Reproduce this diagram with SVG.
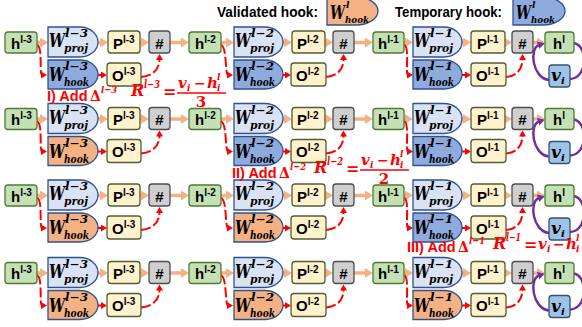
<svg xmlns="http://www.w3.org/2000/svg" width="582" height="327" viewBox="0 0 582 327">
<style>
.gr{fill:#c5e0b4;stroke:#4e7a34;stroke-width:1.3}
.py{fill:#fff2cc;stroke:#4f5f33;stroke-width:1.3}
.gy{fill:#cfcfcf;stroke:#4d4d4d;stroke-width:1.3}
.wp{fill:#dae3f3;stroke:#2f528f;stroke-width:1.3}
.wt{fill:#8faadc;stroke:#2f528f;stroke-width:1.3}
.wv{fill:#f4b183;stroke:#2f528f;stroke-width:1.3}
.vb{fill:#9dc3e6;stroke:#3a5070;stroke-width:1.3}
.t{font-family:"Liberation Sans",Arial,sans-serif;font-weight:bold;font-size:15px;fill:#000}
.m{font-family:"DejaVu Serif",serif;font-style:italic;font-weight:bold;fill:#000}
.rt{font-family:"Liberation Sans",Arial,sans-serif;font-weight:bold;font-size:14.5px;fill:#ff0000}
.rm{font-family:"DejaVu Serif",serif;font-style:italic;font-weight:bold;fill:#ff0000}
.ru{font-family:"DejaVu Serif",serif;font-weight:bold;fill:#ff0000}
.pa{fill:none;stroke:#f4b183;stroke-width:3.5;marker-end:url(#ap)}
.ra{fill:none;stroke:#ff0000;stroke-width:2;stroke-dasharray:10 3;marker-end:url(#ar)}
.pu{fill:none;stroke:#7030a0;stroke-width:2.5}
</style>
<defs>
<marker id="ap" markerUnits="userSpaceOnUse" markerWidth="10" markerHeight="10" refX="2" refY="5" orient="auto"><path d="M0,0 L8,5 L0,10 z" fill="#f4b183"/></marker>
<marker id="ar" markerUnits="userSpaceOnUse" markerWidth="8" markerHeight="8" refX="1" refY="3.5" orient="auto"><path d="M0,0 L6,3.5 L0,7 z" fill="#ff0000"/></marker>
<marker id="au" markerUnits="userSpaceOnUse" markerWidth="9" markerHeight="9" refX="1" refY="4" orient="auto"><path d="M0,0 L7,4 L0,8 z" fill="#7030a0"/></marker>
</defs>
<rect width="582" height="327" fill="#fff"/>

<!-- legend -->
<g id="legend-validated">
<text class="t" x="217" y="17" font-size="12.5" textLength="101" lengthAdjust="spacingAndGlyphs">Validated hook:</text>
<path class="wv" d="M327,-3 H356 A22,14 0 0 1 356,25 H327 Z"/>
<text class="m" x="330" y="19" font-size="18" textLength="15" lengthAdjust="spacingAndGlyphs">W</text>
<text class="m" x="346" y="8" font-size="9">l</text>
<text class="m" x="345" y="23" font-size="10" textLength="24" lengthAdjust="spacingAndGlyphs">hook</text>
</g>
<g id="legend-temporary">
<text class="t" x="395" y="17" font-size="12.5" textLength="107" lengthAdjust="spacingAndGlyphs">Temporary hook:</text>
<path class="wt" d="M513,-3 H543 A22,14 0 0 1 543,25 H513 Z"/>
<text class="m" x="516" y="19" font-size="18" textLength="15" lengthAdjust="spacingAndGlyphs">W</text>
<text class="m" x="532" y="8" font-size="9">l</text>
<text class="m" x="531" y="23" font-size="10" textLength="24" lengthAdjust="spacingAndGlyphs">hook</text>
</g>

<!-- connectors -->
<g id="connectors">
<g id="conn-r1">
<path class="pa" d="M37,42.5 H42"/><path class="pa" d="M98,42.5 H102"/><path class="pa" d="M140,42.5 H143"/><path class="pa" d="M170,42.5 H183"/>
<path class="pa" d="M221,42.5 H228"/><path class="pa" d="M283,42.5 H286"/><path class="pa" d="M325,42.5 H327"/><path class="pa" d="M354,42.5 H367"/>
<path class="pa" d="M404,42.5 H407"/><path class="pa" d="M462,42.5 H465"/><path class="pa" d="M505,42.5 H506"/><path class="pa" d="M533,42.5 H539"/>
<path class="ra" d="M37,45 C43,46 39,75 42,75"/><path class="ra" d="M98,75 H102"/><path class="ra" d="M141,77 C152,76 159.5,70 159.5,59"/>
<path class="ra" d="M221,45 C227,46 225,75 228,75"/><path class="ra" d="M283,75 H286"/><path class="ra" d="M326,77 C337,76 343.5,70 343.5,59"/>
<path class="ra" d="M404,45 C410,46 405,75 408,75"/><path class="ra" d="M462,75 H466"/><path class="ra" d="M506,77 C516,76 522.5,70 522.5,59"/>
<path class="pu" marker-end="url(#au)" d="M549,80 C532,78 529,48 539,45"/><path class="pu" d="M574,43 C588,46 588,78 570,79"/>
</g>
<g id="conn-r2" transform="translate(0,76.5)">
<path class="pa" d="M37,42.5 H42"/><path class="pa" d="M98,42.5 H102"/><path class="pa" d="M140,42.5 H143"/><path class="pa" d="M170,42.5 H183"/>
<path class="pa" d="M221,42.5 H228"/><path class="pa" d="M283,42.5 H286"/><path class="pa" d="M325,42.5 H327"/><path class="pa" d="M354,42.5 H367"/>
<path class="pa" d="M404,42.5 H407"/><path class="pa" d="M462,42.5 H465"/><path class="pa" d="M505,42.5 H506"/><path class="pa" d="M533,42.5 H539"/>
<path class="ra" d="M37,45 C43,46 39,75 42,75"/><path class="ra" d="M98,75 H102"/><path class="ra" d="M141,77 C152,76 159.5,70 159.5,59"/>
<path class="ra" d="M221,45 C227,46 225,75 228,75"/><path class="ra" d="M283,75 H286"/><path class="ra" d="M326,77 C337,76 343.5,70 343.5,59"/>
<path class="ra" d="M404,45 C410,46 405,75 408,75"/><path class="ra" d="M462,75 H466"/><path class="ra" d="M506,77 C516,76 522.5,70 522.5,59"/>
<path class="pu" marker-end="url(#au)" d="M549,80 C532,78 529,48 539,45"/><path class="pu" d="M574,43 C588,46 588,78 570,79"/>
</g>
<g id="conn-r3" transform="translate(0,153)">
<path class="pa" d="M37,42.5 H42"/><path class="pa" d="M98,42.5 H102"/><path class="pa" d="M140,42.5 H143"/><path class="pa" d="M170,42.5 H183"/>
<path class="pa" d="M221,42.5 H228"/><path class="pa" d="M283,42.5 H286"/><path class="pa" d="M325,42.5 H327"/><path class="pa" d="M354,42.5 H367"/>
<path class="pa" d="M404,42.5 H407"/><path class="pa" d="M462,42.5 H465"/><path class="pa" d="M505,42.5 H506"/><path class="pa" d="M533,42.5 H539"/>
<path class="ra" d="M37,45 C43,46 39,75 42,75"/><path class="ra" d="M98,75 H102"/><path class="ra" d="M141,77 C152,76 159.5,70 159.5,59"/>
<path class="ra" d="M221,45 C227,46 225,75 228,75"/><path class="ra" d="M283,75 H286"/><path class="ra" d="M326,77 C337,76 343.5,70 343.5,59"/>
<path class="ra" d="M404,45 C410,46 405,75 408,75"/><path class="ra" d="M462,75 H466"/><path class="ra" d="M506,77 C516,76 522.5,70 522.5,59"/>
<path class="pu" marker-end="url(#au)" d="M549,80 C532,78 529,48 539,45"/><path class="pu" d="M574,43 C588,46 588,78 570,79"/>
</g>
<g id="conn-r4" transform="translate(0,230.5)">
<path class="pa" d="M37,42.5 H42"/><path class="pa" d="M98,42.5 H102"/><path class="pa" d="M140,42.5 H143"/><path class="pa" d="M170,42.5 H183"/>
<path class="pa" d="M221,42.5 H228"/><path class="pa" d="M283,42.5 H286"/><path class="pa" d="M325,42.5 H327"/><path class="pa" d="M354,42.5 H367"/>
<path class="pa" d="M404,42.5 H407"/><path class="pa" d="M462,42.5 H465"/><path class="pa" d="M505,42.5 H506"/><path class="pa" d="M533,42.5 H539"/>
<path class="ra" d="M37,45 C43,46 39,75 42,75"/><path class="ra" d="M98,75 H102"/><path class="ra" d="M141,77 C152,76 159.5,70 159.5,59"/>
<path class="ra" d="M221,45 C227,46 225,75 228,75"/><path class="ra" d="M283,75 H286"/><path class="ra" d="M326,77 C337,76 343.5,70 343.5,59"/>
<path class="ra" d="M404,45 C410,46 405,75 408,75"/><path class="ra" d="M462,75 H466"/><path class="ra" d="M506,77 C516,76 522.5,70 522.5,59"/>
<path class="pu" marker-end="url(#au)" d="M549,80 C532,78 529,48 539,45"/><path class="pu" d="M574,43 C588,46 588,78 570,79"/>
</g>
</g>

<!-- ROW 1 -->
<g id="row1">
<g id="h3-r1"><rect class="gr" x="5" y="32" width="32" height="21" rx="3"/><text class="t" x="11" y="48.5">h<tspan font-size="10" dy="-6">l-3</tspan></text></g>
<g id="wproj3-r1"><path class="wp" d="M48,27 H80 A18,15 0 0 1 80,57 H48 Z"/><text class="m" x="49" y="47" font-size="19" textLength="16" lengthAdjust="spacingAndGlyphs">W</text><text class="m" x="65" y="37" font-size="11" textLength="23" lengthAdjust="spacingAndGlyphs">l−3</text><text class="m" x="64" y="52" font-size="11" textLength="24" lengthAdjust="spacingAndGlyphs">proj</text></g>
<g id="whook3-r1"><path class="wt" d="M48,60 H80 A18,14.5 0 0 1 80,89 H48 Z"/><text class="m" x="49" y="81" font-size="19" textLength="16" lengthAdjust="spacingAndGlyphs">W</text><text class="m" x="65" y="70" font-size="11" textLength="23" lengthAdjust="spacingAndGlyphs">l−3</text><text class="m" x="64" y="86" font-size="11" textLength="25" lengthAdjust="spacingAndGlyphs">hook</text></g>
<g id="p3-r1"><rect class="py" x="108" y="31" width="32" height="22" rx="3"/><text class="t" x="113" y="48.5">P<tspan font-size="10" dy="-6">l-3</tspan></text></g>
<g id="s3-r1"><rect class="gy" x="149" y="31" width="21" height="22" rx="3"/><text class="t" x="159.5" y="48.5" font-size="17" text-anchor="middle">#</text></g>
<g id="o3-r1"><rect class="py" x="107" y="63" width="34" height="23" rx="3"/><text class="t" x="112" y="80.5">O<tspan font-size="10" dy="-6">l-3</tspan></text></g>

<g id="h2-r1"><rect class="gr" x="189" y="32" width="32" height="21" rx="3"/><text class="t" x="195" y="48.5">h<tspan font-size="10" dy="-6">l-2</tspan></text></g>
<g id="wproj2-r1"><path class="wp" d="M234,27 H265 A18,15 0 0 1 265,57 H234 Z"/><text class="m" x="235" y="47" font-size="19" textLength="16" lengthAdjust="spacingAndGlyphs">W</text><text class="m" x="251" y="37" font-size="11" textLength="23" lengthAdjust="spacingAndGlyphs">l−2</text><text class="m" x="250" y="52" font-size="11" textLength="24" lengthAdjust="spacingAndGlyphs">proj</text></g>
<g id="whook2-r1"><path class="wt" d="M234,60 H265 A18,14.5 0 0 1 265,89 H234 Z"/><text class="m" x="235" y="81" font-size="19" textLength="16" lengthAdjust="spacingAndGlyphs">W</text><text class="m" x="251" y="70" font-size="11" textLength="23" lengthAdjust="spacingAndGlyphs">l−2</text><text class="m" x="250" y="86" font-size="11" textLength="25" lengthAdjust="spacingAndGlyphs">hook</text></g>
<g id="p2-r1"><rect class="py" x="292" y="31" width="33" height="22" rx="3"/><text class="t" x="297" y="48.5">P<tspan font-size="10" dy="-6">l-2</tspan></text></g>
<g id="s2-r1"><rect class="gy" x="333" y="31" width="21" height="22" rx="3"/><text class="t" x="343.5" y="48.5" font-size="17" text-anchor="middle">#</text></g>
<g id="o2-r1"><rect class="py" x="291" y="63" width="35" height="23" rx="3"/><text class="t" x="296" y="80.5">O<tspan font-size="10" dy="-6">l-2</tspan></text></g>

<g id="h1-r1"><rect class="gr" x="373" y="32" width="31" height="21" rx="3"/><text class="t" x="378" y="48.5">h<tspan font-size="10" dy="-6">l-1</tspan></text></g>
<g id="wproj1-r1"><path class="wp" d="M413,27 H444 A18,15 0 0 1 444,57 H413 Z"/><text class="m" x="414" y="47" font-size="19" textLength="16" lengthAdjust="spacingAndGlyphs">W</text><text class="m" x="430" y="37" font-size="11" textLength="23" lengthAdjust="spacingAndGlyphs">l−1</text><text class="m" x="429" y="52" font-size="11" textLength="24" lengthAdjust="spacingAndGlyphs">proj</text></g>
<g id="whook1-r1"><path class="wt" d="M413,60 H444 A18,14.5 0 0 1 444,89 H413 Z"/><text class="m" x="414" y="81" font-size="19" textLength="16" lengthAdjust="spacingAndGlyphs">W</text><text class="m" x="430" y="70" font-size="11" textLength="23" lengthAdjust="spacingAndGlyphs">l−1</text><text class="m" x="429" y="86" font-size="11" textLength="25" lengthAdjust="spacingAndGlyphs">hook</text></g>
<g id="p1-r1"><rect class="py" x="471" y="31" width="34" height="22" rx="3"/><text class="t" x="477" y="48.5">P<tspan font-size="10" dy="-6">l-1</tspan></text></g>
<g id="s1-r1"><rect class="gy" x="512" y="31" width="21" height="22" rx="3"/><text class="t" x="522.5" y="48.5" font-size="17" text-anchor="middle">#</text></g>
<g id="o1-r1"><rect class="py" x="471" y="63" width="35" height="23" rx="3"/><text class="t" x="476" y="80.5">O<tspan font-size="10" dy="-6">l-1</tspan></text></g>

<g id="hl-r1"><rect class="gr" x="545" y="32" width="29" height="21" rx="3"/><text class="t" x="553" y="48.5">h<tspan font-size="10" dy="-6">l</tspan></text></g>
<g id="v-r1"><rect class="vb" x="549" y="65" width="21" height="22" rx="3"/><text class="m" x="551" y="81" font-size="17">v</text><text class="m" x="561" y="84" font-size="10">i</text></g>
</g>

<!-- ROW 2 -->
<g id="row2" transform="translate(0,76.5)">
<g id="h3-r2"><rect class="gr" x="5" y="32" width="32" height="21" rx="3"/><text class="t" x="11" y="48.5">h<tspan font-size="10" dy="-6">l-3</tspan></text></g>
<g id="wproj3-r2"><path class="wp" d="M48,27 H80 A18,15 0 0 1 80,57 H48 Z"/><text class="m" x="49" y="47" font-size="19" textLength="16" lengthAdjust="spacingAndGlyphs">W</text><text class="m" x="65" y="37" font-size="11" textLength="23" lengthAdjust="spacingAndGlyphs">l−3</text><text class="m" x="64" y="52" font-size="11" textLength="24" lengthAdjust="spacingAndGlyphs">proj</text></g>
<g id="whook3-r2"><path class="wv" d="M48,60 H80 A18,14.5 0 0 1 80,89 H48 Z"/><text class="m" x="49" y="81" font-size="19" textLength="16" lengthAdjust="spacingAndGlyphs">W</text><text class="m" x="65" y="70" font-size="11" textLength="23" lengthAdjust="spacingAndGlyphs">l−3</text><text class="m" x="64" y="86" font-size="11" textLength="25" lengthAdjust="spacingAndGlyphs">hook</text></g>
<g id="p3-r2"><rect class="py" x="108" y="31" width="32" height="22" rx="3"/><text class="t" x="113" y="48.5">P<tspan font-size="10" dy="-6">l-3</tspan></text></g>
<g id="s3-r2"><rect class="gy" x="149" y="31" width="21" height="22" rx="3"/><text class="t" x="159.5" y="48.5" font-size="17" text-anchor="middle">#</text></g>
<g id="o3-r2"><rect class="py" x="107" y="63" width="34" height="23" rx="3"/><text class="t" x="112" y="80.5">O<tspan font-size="10" dy="-6">l-3</tspan></text></g>

<g id="h2-r2"><rect class="gr" x="189" y="32" width="32" height="21" rx="3"/><text class="t" x="195" y="48.5">h<tspan font-size="10" dy="-6">l-2</tspan></text></g>
<g id="wproj2-r2"><path class="wp" d="M234,27 H265 A18,15 0 0 1 265,57 H234 Z"/><text class="m" x="235" y="47" font-size="19" textLength="16" lengthAdjust="spacingAndGlyphs">W</text><text class="m" x="251" y="37" font-size="11" textLength="23" lengthAdjust="spacingAndGlyphs">l−2</text><text class="m" x="250" y="52" font-size="11" textLength="24" lengthAdjust="spacingAndGlyphs">proj</text></g>
<g id="whook2-r2"><path class="wt" d="M234,60 H265 A18,14.5 0 0 1 265,89 H234 Z"/><text class="m" x="235" y="81" font-size="19" textLength="16" lengthAdjust="spacingAndGlyphs">W</text><text class="m" x="251" y="70" font-size="11" textLength="23" lengthAdjust="spacingAndGlyphs">l−2</text><text class="m" x="250" y="86" font-size="11" textLength="25" lengthAdjust="spacingAndGlyphs">hook</text></g>
<g id="p2-r2"><rect class="py" x="292" y="31" width="33" height="22" rx="3"/><text class="t" x="297" y="48.5">P<tspan font-size="10" dy="-6">l-2</tspan></text></g>
<g id="s2-r2"><rect class="gy" x="333" y="31" width="21" height="22" rx="3"/><text class="t" x="343.5" y="48.5" font-size="17" text-anchor="middle">#</text></g>
<g id="o2-r2"><rect class="py" x="291" y="63" width="35" height="23" rx="3"/><text class="t" x="296" y="80.5">O<tspan font-size="10" dy="-6">l-2</tspan></text></g>

<g id="h1-r2"><rect class="gr" x="373" y="32" width="31" height="21" rx="3"/><text class="t" x="378" y="48.5">h<tspan font-size="10" dy="-6">l-1</tspan></text></g>
<g id="wproj1-r2"><path class="wp" d="M413,27 H444 A18,15 0 0 1 444,57 H413 Z"/><text class="m" x="414" y="47" font-size="19" textLength="16" lengthAdjust="spacingAndGlyphs">W</text><text class="m" x="430" y="37" font-size="11" textLength="23" lengthAdjust="spacingAndGlyphs">l−1</text><text class="m" x="429" y="52" font-size="11" textLength="24" lengthAdjust="spacingAndGlyphs">proj</text></g>
<g id="whook1-r2"><path class="wt" d="M413,60 H444 A18,14.5 0 0 1 444,89 H413 Z"/><text class="m" x="414" y="81" font-size="19" textLength="16" lengthAdjust="spacingAndGlyphs">W</text><text class="m" x="430" y="70" font-size="11" textLength="23" lengthAdjust="spacingAndGlyphs">l−1</text><text class="m" x="429" y="86" font-size="11" textLength="25" lengthAdjust="spacingAndGlyphs">hook</text></g>
<g id="p1-r2"><rect class="py" x="471" y="31" width="34" height="22" rx="3"/><text class="t" x="477" y="48.5">P<tspan font-size="10" dy="-6">l-1</tspan></text></g>
<g id="s1-r2"><rect class="gy" x="512" y="31" width="21" height="22" rx="3"/><text class="t" x="522.5" y="48.5" font-size="17" text-anchor="middle">#</text></g>
<g id="o1-r2"><rect class="py" x="471" y="63" width="35" height="23" rx="3"/><text class="t" x="476" y="80.5">O<tspan font-size="10" dy="-6">l-1</tspan></text></g>

<g id="hl-r2"><rect class="gr" x="545" y="32" width="29" height="21" rx="3"/><text class="t" x="553" y="48.5">h<tspan font-size="10" dy="-6">l</tspan></text></g>
<g id="v-r2"><rect class="vb" x="549" y="65" width="21" height="22" rx="3"/><text class="m" x="551" y="81" font-size="17">v</text><text class="m" x="561" y="84" font-size="10">i</text></g>
</g>

<!-- ROW 3 -->
<g id="row3" transform="translate(0,153)">
<g id="h3-r3"><rect class="gr" x="5" y="32" width="32" height="21" rx="3"/><text class="t" x="11" y="48.5">h<tspan font-size="10" dy="-6">l-3</tspan></text></g>
<g id="wproj3-r3"><path class="wp" d="M48,27 H80 A18,15 0 0 1 80,57 H48 Z"/><text class="m" x="49" y="47" font-size="19" textLength="16" lengthAdjust="spacingAndGlyphs">W</text><text class="m" x="65" y="37" font-size="11" textLength="23" lengthAdjust="spacingAndGlyphs">l−3</text><text class="m" x="64" y="52" font-size="11" textLength="24" lengthAdjust="spacingAndGlyphs">proj</text></g>
<g id="whook3-r3"><path class="wv" d="M48,60 H80 A18,14.5 0 0 1 80,89 H48 Z"/><text class="m" x="49" y="81" font-size="19" textLength="16" lengthAdjust="spacingAndGlyphs">W</text><text class="m" x="65" y="70" font-size="11" textLength="23" lengthAdjust="spacingAndGlyphs">l−3</text><text class="m" x="64" y="86" font-size="11" textLength="25" lengthAdjust="spacingAndGlyphs">hook</text></g>
<g id="p3-r3"><rect class="py" x="108" y="31" width="32" height="22" rx="3"/><text class="t" x="113" y="48.5">P<tspan font-size="10" dy="-6">l-3</tspan></text></g>
<g id="s3-r3"><rect class="gy" x="149" y="31" width="21" height="22" rx="3"/><text class="t" x="159.5" y="48.5" font-size="17" text-anchor="middle">#</text></g>
<g id="o3-r3"><rect class="py" x="107" y="63" width="34" height="23" rx="3"/><text class="t" x="112" y="80.5">O<tspan font-size="10" dy="-6">l-3</tspan></text></g>

<g id="h2-r3"><rect class="gr" x="189" y="32" width="32" height="21" rx="3"/><text class="t" x="195" y="48.5">h<tspan font-size="10" dy="-6">l-2</tspan></text></g>
<g id="wproj2-r3"><path class="wp" d="M234,27 H265 A18,15 0 0 1 265,57 H234 Z"/><text class="m" x="235" y="47" font-size="19" textLength="16" lengthAdjust="spacingAndGlyphs">W</text><text class="m" x="251" y="37" font-size="11" textLength="23" lengthAdjust="spacingAndGlyphs">l−2</text><text class="m" x="250" y="52" font-size="11" textLength="24" lengthAdjust="spacingAndGlyphs">proj</text></g>
<g id="whook2-r3"><path class="wv" d="M234,60 H265 A18,14.5 0 0 1 265,89 H234 Z"/><text class="m" x="235" y="81" font-size="19" textLength="16" lengthAdjust="spacingAndGlyphs">W</text><text class="m" x="251" y="70" font-size="11" textLength="23" lengthAdjust="spacingAndGlyphs">l−2</text><text class="m" x="250" y="86" font-size="11" textLength="25" lengthAdjust="spacingAndGlyphs">hook</text></g>
<g id="p2-r3"><rect class="py" x="292" y="31" width="33" height="22" rx="3"/><text class="t" x="297" y="48.5">P<tspan font-size="10" dy="-6">l-2</tspan></text></g>
<g id="s2-r3"><rect class="gy" x="333" y="31" width="21" height="22" rx="3"/><text class="t" x="343.5" y="48.5" font-size="17" text-anchor="middle">#</text></g>
<g id="o2-r3"><rect class="py" x="291" y="63" width="35" height="23" rx="3"/><text class="t" x="296" y="80.5">O<tspan font-size="10" dy="-6">l-2</tspan></text></g>

<g id="h1-r3"><rect class="gr" x="373" y="32" width="31" height="21" rx="3"/><text class="t" x="378" y="48.5">h<tspan font-size="10" dy="-6">l-1</tspan></text></g>
<g id="wproj1-r3"><path class="wp" d="M413,27 H444 A18,15 0 0 1 444,57 H413 Z"/><text class="m" x="414" y="47" font-size="19" textLength="16" lengthAdjust="spacingAndGlyphs">W</text><text class="m" x="430" y="37" font-size="11" textLength="23" lengthAdjust="spacingAndGlyphs">l−1</text><text class="m" x="429" y="52" font-size="11" textLength="24" lengthAdjust="spacingAndGlyphs">proj</text></g>
<g id="whook1-r3"><path class="wt" d="M413,60 H444 A18,14.5 0 0 1 444,89 H413 Z"/><text class="m" x="414" y="81" font-size="19" textLength="16" lengthAdjust="spacingAndGlyphs">W</text><text class="m" x="430" y="70" font-size="11" textLength="23" lengthAdjust="spacingAndGlyphs">l−1</text><text class="m" x="429" y="86" font-size="11" textLength="25" lengthAdjust="spacingAndGlyphs">hook</text></g>
<g id="p1-r3"><rect class="py" x="471" y="31" width="34" height="22" rx="3"/><text class="t" x="477" y="48.5">P<tspan font-size="10" dy="-6">l-1</tspan></text></g>
<g id="s1-r3"><rect class="gy" x="512" y="31" width="21" height="22" rx="3"/><text class="t" x="522.5" y="48.5" font-size="17" text-anchor="middle">#</text></g>
<g id="o1-r3"><rect class="py" x="471" y="63" width="35" height="23" rx="3"/><text class="t" x="476" y="80.5">O<tspan font-size="10" dy="-6">l-1</tspan></text></g>

<g id="hl-r3"><rect class="gr" x="545" y="32" width="29" height="21" rx="3"/><text class="t" x="553" y="48.5">h<tspan font-size="10" dy="-6">l</tspan></text></g>
<g id="v-r3"><rect class="vb" x="549" y="65" width="21" height="22" rx="3"/><text class="m" x="551" y="81" font-size="17">v</text><text class="m" x="561" y="84" font-size="10">i</text></g>
</g>

<!-- ROW 4 -->
<g id="row4" transform="translate(0,230.5)">
<g id="h3-r4"><rect class="gr" x="5" y="32" width="32" height="21" rx="3"/><text class="t" x="11" y="48.5">h<tspan font-size="10" dy="-6">l-3</tspan></text></g>
<g id="wproj3-r4"><path class="wp" d="M48,27 H80 A18,15 0 0 1 80,57 H48 Z"/><text class="m" x="49" y="47" font-size="19" textLength="16" lengthAdjust="spacingAndGlyphs">W</text><text class="m" x="65" y="37" font-size="11" textLength="23" lengthAdjust="spacingAndGlyphs">l−3</text><text class="m" x="64" y="52" font-size="11" textLength="24" lengthAdjust="spacingAndGlyphs">proj</text></g>
<g id="whook3-r4"><path class="wv" d="M48,60 H80 A18,14.5 0 0 1 80,89 H48 Z"/><text class="m" x="49" y="81" font-size="19" textLength="16" lengthAdjust="spacingAndGlyphs">W</text><text class="m" x="65" y="70" font-size="11" textLength="23" lengthAdjust="spacingAndGlyphs">l−3</text><text class="m" x="64" y="86" font-size="11" textLength="25" lengthAdjust="spacingAndGlyphs">hook</text></g>
<g id="p3-r4"><rect class="py" x="108" y="31" width="32" height="22" rx="3"/><text class="t" x="113" y="48.5">P<tspan font-size="10" dy="-6">l-3</tspan></text></g>
<g id="s3-r4"><rect class="gy" x="149" y="31" width="21" height="22" rx="3"/><text class="t" x="159.5" y="48.5" font-size="17" text-anchor="middle">#</text></g>
<g id="o3-r4"><rect class="py" x="107" y="63" width="34" height="23" rx="3"/><text class="t" x="112" y="80.5">O<tspan font-size="10" dy="-6">l-3</tspan></text></g>

<g id="h2-r4"><rect class="gr" x="189" y="32" width="32" height="21" rx="3"/><text class="t" x="195" y="48.5">h<tspan font-size="10" dy="-6">l-2</tspan></text></g>
<g id="wproj2-r4"><path class="wp" d="M234,27 H265 A18,15 0 0 1 265,57 H234 Z"/><text class="m" x="235" y="47" font-size="19" textLength="16" lengthAdjust="spacingAndGlyphs">W</text><text class="m" x="251" y="37" font-size="11" textLength="23" lengthAdjust="spacingAndGlyphs">l−2</text><text class="m" x="250" y="52" font-size="11" textLength="24" lengthAdjust="spacingAndGlyphs">proj</text></g>
<g id="whook2-r4"><path class="wv" d="M234,60 H265 A18,14.5 0 0 1 265,89 H234 Z"/><text class="m" x="235" y="81" font-size="19" textLength="16" lengthAdjust="spacingAndGlyphs">W</text><text class="m" x="251" y="70" font-size="11" textLength="23" lengthAdjust="spacingAndGlyphs">l−2</text><text class="m" x="250" y="86" font-size="11" textLength="25" lengthAdjust="spacingAndGlyphs">hook</text></g>
<g id="p2-r4"><rect class="py" x="292" y="31" width="33" height="22" rx="3"/><text class="t" x="297" y="48.5">P<tspan font-size="10" dy="-6">l-2</tspan></text></g>
<g id="s2-r4"><rect class="gy" x="333" y="31" width="21" height="22" rx="3"/><text class="t" x="343.5" y="48.5" font-size="17" text-anchor="middle">#</text></g>
<g id="o2-r4"><rect class="py" x="291" y="63" width="35" height="23" rx="3"/><text class="t" x="296" y="80.5">O<tspan font-size="10" dy="-6">l-2</tspan></text></g>

<g id="h1-r4"><rect class="gr" x="373" y="32" width="31" height="21" rx="3"/><text class="t" x="378" y="48.5">h<tspan font-size="10" dy="-6">l-1</tspan></text></g>
<g id="wproj1-r4"><path class="wp" d="M413,27 H444 A18,15 0 0 1 444,57 H413 Z"/><text class="m" x="414" y="47" font-size="19" textLength="16" lengthAdjust="spacingAndGlyphs">W</text><text class="m" x="430" y="37" font-size="11" textLength="23" lengthAdjust="spacingAndGlyphs">l−1</text><text class="m" x="429" y="52" font-size="11" textLength="24" lengthAdjust="spacingAndGlyphs">proj</text></g>
<g id="whook1-r4"><path class="wv" d="M413,60 H444 A18,14.5 0 0 1 444,89 H413 Z"/><text class="m" x="414" y="81" font-size="19" textLength="16" lengthAdjust="spacingAndGlyphs">W</text><text class="m" x="430" y="70" font-size="11" textLength="23" lengthAdjust="spacingAndGlyphs">l−1</text><text class="m" x="429" y="86" font-size="11" textLength="25" lengthAdjust="spacingAndGlyphs">hook</text></g>
<g id="p1-r4"><rect class="py" x="471" y="31" width="34" height="22" rx="3"/><text class="t" x="477" y="48.5">P<tspan font-size="10" dy="-6">l-1</tspan></text></g>
<g id="s1-r4"><rect class="gy" x="512" y="31" width="21" height="22" rx="3"/><text class="t" x="522.5" y="48.5" font-size="17" text-anchor="middle">#</text></g>
<g id="o1-r4"><rect class="py" x="471" y="63" width="35" height="23" rx="3"/><text class="t" x="476" y="80.5">O<tspan font-size="10" dy="-6">l-1</tspan></text></g>

<g id="hl-r4"><rect class="gr" x="545" y="32" width="29" height="21" rx="3"/><text class="t" x="553" y="48.5">h<tspan font-size="10" dy="-6">l</tspan></text></g>
<g id="v-r4"><rect class="vb" x="549" y="65" width="21" height="22" rx="3"/><text class="m" x="551" y="81" font-size="17">v</text><text class="m" x="561" y="84" font-size="10">i</text></g>
</g>

<!-- red step labels -->
<g id="label-1">
<text class="rt" x="47" y="101">I) Add</text>
<text class="ru" x="90" y="101" font-size="14">Δ</text>
<text class="rm" x="101" y="93" font-size="10" textLength="16" lengthAdjust="spacingAndGlyphs">l−3</text>
<text class="rm" x="131" y="96" font-size="16">R</text>
<text class="rm" x="144" y="88" font-size="11" textLength="16" lengthAdjust="spacingAndGlyphs">l−3</text>
<text class="ru" x="163" y="97" font-size="16">=</text>
<line x1="177" y1="93" x2="226" y2="93" stroke="#ff0000" stroke-width="1.6"/>
<text class="rm" x="178" y="88" font-size="15">v</text><text class="rm" x="187" y="91" font-size="9">i</text>
<text class="ru" x="194" y="88" font-size="14">−</text>
<text class="rm" x="207" y="88" font-size="15">h</text><text class="rm" x="217" y="80" font-size="9">l</text><text class="rm" x="217" y="91" font-size="9">i</text>
<text class="ru" x="201" y="107" font-size="15" text-anchor="middle">3</text>
</g>
<g id="label-2">
<text class="rt" x="232" y="178">II) Add</text>
<text class="ru" x="279" y="178" font-size="14">Δ</text>
<text class="rm" x="290" y="170" font-size="10" textLength="16" lengthAdjust="spacingAndGlyphs">l−2</text>
<text class="rm" x="314" y="173" font-size="16">R</text>
<text class="rm" x="327" y="165" font-size="11" textLength="16" lengthAdjust="spacingAndGlyphs">l−2</text>
<text class="ru" x="346" y="174" font-size="16">=</text>
<line x1="360" y1="170" x2="409" y2="170" stroke="#ff0000" stroke-width="1.6"/>
<text class="rm" x="361" y="165" font-size="15">v</text><text class="rm" x="370" y="168" font-size="9">i</text>
<text class="ru" x="377" y="165" font-size="14">−</text>
<text class="rm" x="390" y="165" font-size="15">h</text><text class="rm" x="400" y="157" font-size="9">l</text><text class="rm" x="400" y="168" font-size="9">i</text>
<text class="ru" x="384" y="184" font-size="15" text-anchor="middle">2</text>
</g>
<g id="label-3">
<text class="rt" x="407" y="252">III) Add</text>
<text class="ru" x="458" y="252" font-size="14">Δ</text>
<text class="rm" x="469" y="244" font-size="10" textLength="16" lengthAdjust="spacingAndGlyphs">l−1</text>
<text class="rm" x="493" y="249" font-size="16">R</text>
<text class="rm" x="506" y="241" font-size="11" textLength="15" lengthAdjust="spacingAndGlyphs">l−1</text>
<text class="ru" x="524" y="250" font-size="16">=</text>
<text class="rm" x="538" y="249" font-size="15">v</text><text class="rm" x="547" y="252" font-size="9">i</text>
<text class="ru" x="553" y="249" font-size="14">−</text>
<text class="rm" x="566" y="249" font-size="15">h</text><text class="rm" x="576" y="241" font-size="9">l</text><text class="rm" x="576" y="252" font-size="9">i</text>
</g>
</svg>
